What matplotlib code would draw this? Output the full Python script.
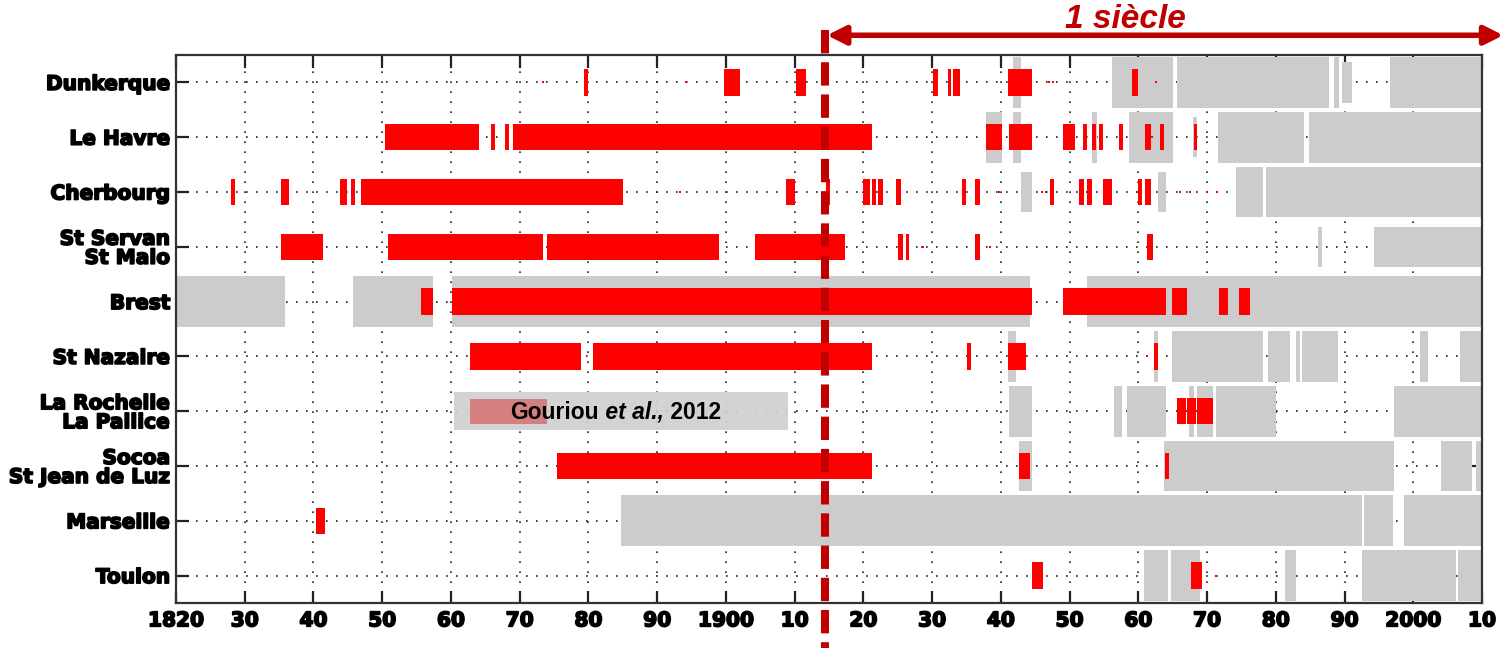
import matplotlib.pyplot as plt
import matplotlib.patheffects as pe

# stations, top to bottom
stations = ["Dunkerque", "Le Havre", "Cherbourg", "St Servan\nSt Malo", "Brest",
            "St Nazaire", "La Rochelle\nLa Pallice", "Socoa\nSt Jean de Luz",
            "Marseille", "Toulon"]

# red periods (start year, end year) per station
red_periods = [
    [(1879.3, 1880.0), (1899.7, 1902.0), (1910.2, 1911.6), (1930.2, 1930.8), (1932.3, 1932.8),
     (1933.1, 1934.0), (1941.0, 1944.5), (1959.1, 1959.9)],
    [(1850.4, 1864.1), (1865.8, 1866.4), (1867.9, 1868.5), (1869.1, 1921.2), (1937.8, 1940.1),
     (1941.2, 1944.5), (1949.1, 1950.8), (1952.0, 1952.6), (1953.2, 1953.8), (1954.3, 1954.9),
     (1957.2, 1957.8), (1961.0, 1961.9), (1963.1, 1963.7), (1968.1, 1968.5)],
    [(1828.0, 1828.6), (1835.3, 1836.4), (1843.8, 1844.9), (1845.5, 1846.1), (1846.9, 1885.1),
     (1908.7, 1910.1), (1914.6, 1915.1), (1920.0, 1920.9), (1921.2, 1921.9), (1922.1, 1922.9),
     (1924.7, 1925.5), (1934.3, 1934.9), (1936.3, 1936.9), (1947.1, 1947.7), (1951.4, 1952.1),
     (1952.6, 1953.2), (1954.9, 1956.1), (1959.9, 1960.5), (1961.0, 1961.9)],
    [(1835.3, 1841.4), (1850.8, 1873.4), (1874.0, 1899.0), (1904.3, 1917.4), (1925.0, 1925.8),
     (1926.2, 1926.7), (1936.3, 1936.9), (1961.3, 1962.2)],
    [(1855.6, 1857.4), (1860.1, 1944.5), (1949.1, 1964.0), (1964.9, 1967.1), (1971.8, 1973.0),
     (1974.7, 1976.2)],
    [(1862.7, 1878.9), (1880.7, 1921.2), (1935.1, 1935.7), (1941.0, 1943.7), (1962.3, 1962.8)],
    [(1965.7, 1966.9), (1967.1, 1968.4), (1968.6, 1970.9)],
    [(1875.5, 1921.2), (1942.7, 1944.2), (1963.9, 1964.5)],
    [(1840.3, 1841.7)],
    [(1944.5, 1946.2), (1967.7, 1969.2)],
]

# grey periods (full height)
grey_periods = [
    [(1941.8, 1943.0), (1956.1, 1965.1), (1965.7, 1987.8), (1988.4, 1989.2), (1996.6, 2010)],
    [(1937.8, 1940.1), (1941.8, 1943.0), (1953.3, 1954.0), (1958.7, 1965.1), (1971.6, 1984.1),
     (1984.9, 2010)],
    [(1974.2, 1978.1), (1978.6, 2010)],
    [],
    [(1820, 1835.9), (1845.8, 1857.4), (1860.1, 1944.3), (1952.6, 2010)],
    [(1941.0, 1942.2), (1962.3, 1962.8), (1964.9, 1978.2), (1978.8, 1982.0), (1982.9, 1983.5),
     (1983.8, 1989.0), (2001.0, 2002.1), (2006.8, 2010)],
    [(1941.2, 1944.5), (1956.4, 1957.6), (1958.4, 1964.0), (1967.4, 1968.1), (1968.6, 1970.9),
     (1971.3, 1980.0), (1997.2, 2010)],
    [(1942.7, 1944.5), (1963.8, 1997.2), (2004.1, 2008.5), (2009.1, 2010)],
    [(1884.8, 1992.5), (1992.8, 1997.0), (1998.6, 2010)],
    [(1960.8, 1964.3), (1964.7, 1969.0), (1981.4, 1982.9), (1992.5, 2006.2), (2006.5, 2010)],
]

# grey periods drawn shorter
grey_short = [
    [(1989.6, 1991.1)],
    [(1968.0, 1968.6)],
    [(1943.0, 1944.5), (1962.8, 1964.0)],
    [(1986.1, 1986.7), (1994.3, 2010)],
    [], [], [], [], [], [],
]

# isolated red points
red_dots = [
    [1873.4, 1894.2, 1947.0, 1947.6, 1962.6],
    [1962.0],
    [1893.3, 1939.8, 1946.0, 1946.6, 1966.0, 1967.5, 1970.0, 1971.5],
    [1928.6, 1938.4],
    [], [1961.2], [], [], [], [1971.3],
]

gouriou_grey = (1860.4, 1909.0)
gouriou_red = (1862.7, 1874.0)
ref_year = 1914.4
years = list(range(1820, 2011, 10))
tick_labels = [str(y) if y in (1820, 1900, 2000) else f"{y % 100:02d}" for y in years]

RED = "#ff0000"
GREY = "#cccccc"
DARKRED = "#c00000"

fig = plt.figure(figsize=(15.09, 6.48), dpi=100)
ax = fig.add_axes([176 / 1509, 45 / 648, 1306 / 1509, 548 / 648])

ypos = list(range(1, len(stations) + 1))
for i, y in enumerate(ypos):
    ax.broken_barh([(s, e - s) for s, e in grey_periods[i]], (y - 0.465, 0.93),
                   facecolors=GREY, zorder=2)
    ax.broken_barh([(s, e - s) for s, e in grey_short[i]], (y - 0.37, 0.74),
                   facecolors=GREY, zorder=2)
    ax.broken_barh([(s, e - s) for s, e in red_periods[i]], (y - 0.24, 0.48),
                   facecolors=RED, zorder=3)
    for d in red_dots[i]:
        ax.broken_barh([(d - 0.15, 0.3)], (y - 0.02, 0.04), facecolors=RED, zorder=3)

# Gouriou et al. box on the La Rochelle row
yr = 7
ax.broken_barh([(gouriou_grey[0], gouriou_grey[1] - gouriou_grey[0])], (yr - 0.35, 0.69),
               facecolors="#d0d0d0", alpha=0.92, zorder=4)
ax.broken_barh([(gouriou_red[0], gouriou_red[1] - gouriou_red[0])], (yr - 0.23, 0.47),
               facecolors="#d48080", zorder=4)
t1 = ax.text(1868.6, yr + 0.02, "Gouriou", fontsize=16.5, fontweight="bold",
             family="Liberation Sans", va="center", ha="left", zorder=5)
t2 = ax.annotate(" et al.,", xy=(1, 0), xycoords=t1, va="bottom", ha="left", fontsize=16.5,
                 fontweight="bold", style="italic", family="Liberation Sans", zorder=5)
ax.annotate(" 2012", xy=(1, 0), xycoords=t2, va="bottom", ha="left", fontsize=16.5,
            fontweight="bold", family="Liberation Sans", zorder=5)

ax.set_xlim(1820, 2010)
ax.set_ylim(10.5, 0.5)
ax.set_xticks(years)
ax.set_xticklabels(tick_labels)
ax.set_yticks(ypos)
ax.set_yticklabels(stations, linespacing=1.0)

ax.grid(True, color="#222222", linestyle=(0, (1, 5)), linewidth=1.2, zorder=1)
ax.set_axisbelow(True)
ax.tick_params(direction="in", length=9, width=1.6, color="#222222",
               top=True, right=True, pad=6)
ax.tick_params(axis="y", pad=4)
stroke = [pe.withStroke(linewidth=1.2, foreground="black")]
for lab in ax.get_xticklabels() + ax.get_yticklabels():
    lab.set_fontsize(14.5)
    lab.set_fontweight("bold")
    lab.set_family("DejaVu Sans")
    lab.set_path_effects(stroke)
for sp in ax.spines.values():
    sp.set_linewidth(1.6)
    sp.set_color("#333333")

# 1914 reference line and the century arrow
ax.plot([ref_year, ref_year], [0.05, 11.4], color=DARKRED, linewidth=5.8,
        dashes=(2.9, 1.1), dash_capstyle="butt", clip_on=False, zorder=6)
ax.annotate("", xy=(2013.1, 0.14), xytext=(1914.7, 0.14),
            arrowprops=dict(arrowstyle="<|-|>", color=DARKRED, lw=4, mutation_scale=28,
                            shrinkA=0, shrinkB=0),
            annotation_clip=False, zorder=6)
ax.text(1958.1, 0.0, "1 siècle", color=DARKRED, fontsize=24, fontweight="bold",
        style="italic", family="Liberation Sans", ha="center", va="baseline", clip_on=False)

fig.savefig("out.png", dpi=100)
